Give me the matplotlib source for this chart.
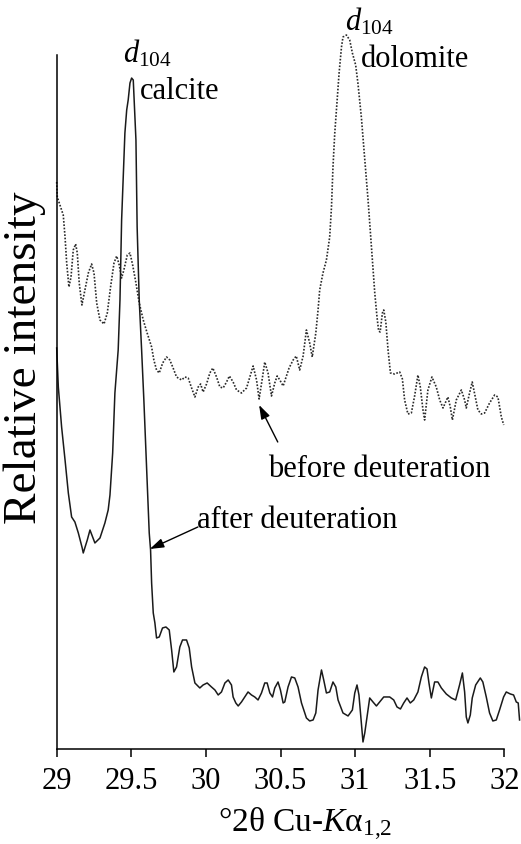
import matplotlib.pyplot as plt

plt.rcParams['font.family'] = ['Liberation Serif', 'DejaVu Serif']
plt.rcParams['mathtext.fontset'] = 'custom'
plt.rcParams['mathtext.rm'] = 'Liberation Serif'
plt.rcParams['mathtext.it'] = 'Liberation Serif:italic'

# XRD scan after deuteration (solid)
two_theta_after = [29.000, 29.011, 29.033, 29.056, 29.078, 29.100, 29.122, 29.145, 29.171, 29.178,
                   29.205, 29.223, 29.256, 29.290, 29.323, 29.345, 29.357, 29.375, 29.390, 29.412,
                   29.424, 29.435, 29.446, 29.457, 29.469, 29.479, 29.491, 29.502, 29.513, 29.524,
                   29.531, 29.539, 29.553, 29.569, 29.584, 29.602, 29.620, 29.629, 29.636, 29.647,
                   29.658, 29.669, 29.687, 29.709, 29.732, 29.754, 29.770, 29.785, 29.803, 29.825,
                   29.843, 29.870, 29.888, 29.904, 29.926, 29.959, 29.981, 30.008, 30.037, 30.060,
                   30.082, 30.104, 30.127, 30.149, 30.171, 30.182, 30.200, 30.216, 30.238, 30.260,
                   30.282, 30.305, 30.327, 30.349, 30.372, 30.394, 30.410, 30.428, 30.446, 30.461,
                   30.483, 30.499, 30.517, 30.528, 30.550, 30.573, 30.595, 30.617, 30.640, 30.673,
                   30.695, 30.718, 30.736, 30.751, 30.774, 30.789, 30.807, 30.829, 30.851, 30.870,
                   30.885, 30.918, 30.952, 30.981, 30.997, 31.012, 31.025, 31.041, 31.052, 31.064,
                   31.079, 31.097, 31.119, 31.142, 31.164, 31.191, 31.231, 31.258, 31.280, 31.303,
                   31.325, 31.347, 31.369, 31.392, 31.420, 31.443, 31.465, 31.481, 31.494, 31.510,
                   31.532, 31.554, 31.577, 31.610, 31.644, 31.673, 31.699, 31.718, 31.733, 31.744,
                   31.755, 31.771, 31.784, 31.807, 31.838, 31.855, 31.878, 31.900, 31.922, 31.945,
                   31.967, 31.994, 32.012, 32.039, 32.061, 32.079, 32.092, 32.101]
counts_after = [401, 362, 322, 289, 256, 232, 227, 216, 201, 196,
                209, 219, 206, 211, 226, 239, 254, 296, 356, 399,
                449, 529, 572, 616, 639, 649, 666, 671, 669, 632,
                609, 522, 449, 399, 349, 282, 216, 199, 166, 136,
                126, 111, 112, 121, 122, 119, 99, 77, 82, 102,
                109, 109, 101, 82, 66, 61, 64, 66, 62, 59,
                54, 57, 66, 69, 64, 52, 46, 43, 47, 52,
                57, 54, 52, 49, 56, 66, 66, 56, 52, 61,
                67, 59, 46, 47, 62, 72, 71, 62, 46, 31,
                28, 29, 36, 59, 79, 69, 56, 57, 67, 62,
                49, 36, 33, 39, 56, 64, 54, 26, 7, 16,
                32, 51, 47, 43, 47, 52, 52, 49, 42, 40,
                46, 51, 46, 49, 57, 72, 82, 80, 66, 51,
                67, 67, 61, 55, 51, 49, 64, 76, 57, 32,
                26, 34, 51, 64, 71, 67, 52, 36, 28, 29,
                39, 52, 57, 55, 54, 47, 46, 29]

# XRD scan before deuteration (dotted)
two_theta_before = [29.000, 29.004, 29.022, 29.044, 29.056, 29.067, 29.082, 29.096, 29.111, 29.127,
                    29.138, 29.151, 29.169, 29.189, 29.212, 29.234, 29.250, 29.268, 29.290, 29.317,
                    29.339, 29.361, 29.384, 29.402, 29.419, 29.435, 29.450, 29.473, 29.491, 29.509,
                    29.531, 29.553, 29.580, 29.606, 29.636, 29.651, 29.669, 29.687, 29.710, 29.736,
                    29.758, 29.780, 29.803, 29.837, 29.859, 29.881, 29.904, 29.926, 29.948, 29.964,
                    29.981, 30.004, 30.026, 30.046, 30.071, 30.093, 30.115, 30.138, 30.157, 30.182,
                    30.205, 30.238, 30.272, 30.294, 30.316, 30.339, 30.356, 30.376, 30.394, 30.416,
                    30.439, 30.461, 30.477, 30.495, 30.517, 30.535, 30.557, 30.584, 30.605, 30.628,
                    30.651, 30.673, 30.695, 30.712, 30.736, 30.751, 30.762, 30.784, 30.807, 30.829,
                    30.841, 30.851, 30.863, 30.874, 30.892, 30.908, 30.918, 30.941, 30.963, 30.981,
                    31.003, 31.018, 31.041, 31.064, 31.086, 31.102, 31.119, 31.131, 31.146, 31.157,
                    31.167, 31.182, 31.191, 31.205, 31.220, 31.236, 31.264, 31.298, 31.316, 31.331,
                    31.353, 31.376, 31.398, 31.420, 31.436, 31.454, 31.465, 31.487, 31.514, 31.543,
                    31.566, 31.588, 31.621, 31.637, 31.651, 31.677, 31.711, 31.733, 31.744, 31.766,
                    31.784, 31.799, 31.822, 31.845, 31.867, 31.900, 31.934, 31.956, 31.979, 31.995]
counts_before = [567, 552, 544, 534, 512, 486, 462, 472, 499, 505,
                 496, 466, 444, 459, 476, 485, 476, 446, 429, 425,
                 436, 462, 486, 493, 484, 471, 479, 494, 496, 484,
                 466, 446, 429, 416, 402, 389, 379, 376, 386, 392,
                 389, 381, 372, 369, 372, 371, 361, 352, 362, 365,
                 357, 365, 376, 381, 372, 362, 361, 367, 373, 367,
                 359, 356, 361, 372, 383, 369, 350, 369, 387, 376,
                 353, 366, 373, 369, 363, 371, 381, 389, 393, 379,
                 393, 419, 406, 392, 416, 439, 459, 476, 489, 512,
                 542, 582, 616, 639, 676, 702, 712, 714, 709, 696,
                 684, 666, 632, 589, 549, 516, 482, 456, 432, 418,
                 417, 436, 439, 427, 399, 376, 375, 377, 370, 349,
                 335, 336, 353, 374, 362, 339, 329, 359, 372, 362,
                 349, 341, 352, 342, 329, 349, 359, 349, 341, 356,
                 367, 356, 339, 335, 336, 346, 354, 352, 332, 324]

x_ticks = [29, 29.5, 30, 30.5, 31, 31.5, 32]
x_tick_labels = ['29', '29.5', '30', '30.5', '31', '31.5', '32']

fig = plt.figure(figsize=(5.21, 8.44), dpi=100)
ax = fig.add_axes([0.1088, 0.1126, 0.8595, 0.8222])

ax.plot(two_theta_before, counts_before, color='#2a2a2a', lw=1.2,
        linestyle=(0, (1, 1)), clip_on=False)
ax.plot(two_theta_after, counts_after, color='#1a1a1a', lw=1.1, clip_on=False)

ax.set_xlim(29, 32)
ax.set_ylim(0, 694)
ax.set_xticks(x_ticks)
ax.set_xticklabels(x_tick_labels)
ax.set_yticks([])
ax.tick_params(axis='x', direction='out', length=6, width=1.1, pad=7, labelsize=22)
for side in ['top', 'right']:
    ax.spines[side].set_visible(False)
for side in ['left', 'bottom']:
    ax.spines[side].set_linewidth(1.1)

# peak labels
ax.text(29.444, 687, r'$d_{104}$', fontsize=22, va='baseline', ha='left')
ax.text(29.557, 650, 'calcite', fontsize=22, va='baseline', ha='left')
ax.text(30.930, 719, r'$d_{104}$', fontsize=22, va='baseline', ha='left')
ax.text(31.041, 682, 'dolomite', fontsize=22, va='baseline', ha='left')

arrow = dict(arrowstyle='-|>,head_length=0.6,head_width=0.2', color='black',
             lw=1.0, mutation_scale=14, shrinkA=0, shrinkB=0)
ax.annotate('', xy=(30.356, 344), xytext=(30.481, 307), arrowprops=arrow)
ax.text(30.414, 272, 'before deuteration', fontsize=22, va='baseline', ha='left')
ax.annotate('', xy=(29.624, 200), xytext=(29.946, 222), arrowprops=arrow)
ax.text(29.939, 221, 'after deuteration', fontsize=22, va='baseline', ha='left')

fig.text(25 / 521, 1 - 358 / 844, 'Relative intensity', rotation=90,
         fontsize=34, ha='center', va='center')
fig.text(305 / 521, 1 - 832 / 844, '°2θ Cu-$K$α$_{1{,}2}$', fontsize=24,
         ha='center', va='baseline')

fig.savefig('out.png', dpi=100)
